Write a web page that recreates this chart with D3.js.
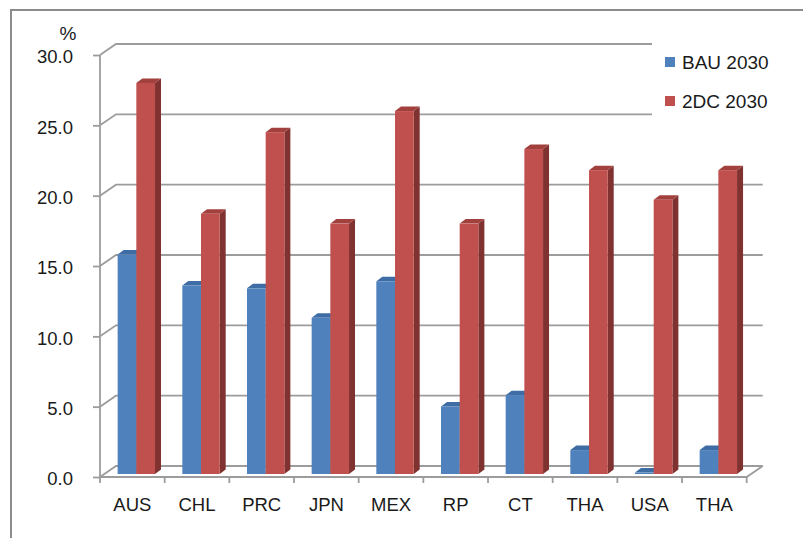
<!DOCTYPE html>
<html>
<head>
<meta charset="utf-8">
<script src="https://cdn.jsdelivr.net/npm/d3@7"></script>
<style>
  html, body { margin: 0; padding: 0; background: #ffffff; }
  svg { display: block; }
  text { font-family: "Liberation Sans", Arial, sans-serif; fill: #1a1a1a; }
</style>
</head>
<body>
<svg id="chart" width="803" height="538"></svg>
<script>
// Categories (economies) and the two scenario series, in percent
const categories = ["AUS", "CHL", "PRC", "JPN", "MEX", "RP", "CT", "THA", "USA", "THA"];
const seriesNames = ["BAU 2030", "2DC 2030"];
const bau2030 = [15.6, 13.4, 13.2, 11.1, 13.7, 4.8, 5.6, 1.7, 0.1, 1.7];
const dc2030 = [27.8, 18.5, 24.3, 17.8, 25.8, 17.8, 23.1, 21.6, 19.5, 21.6];
const yTicks = [0, 5, 10, 15, 20, 25, 30];

const seriesValues = [bau2030, dc2030];
const colors = [
  { front: "#4f81bd", top: "#3e6ca4", side: "#385d8a" },
  { front: "#c0504d", top: "#a2403d", side: "#7f3230" }
];

const svg = d3.select("#chart");

// Plot box on the front plane, plus oblique depth offsets
const left = 100, right = 746.7, base = 477, topY = 55;
const wallDx = 16, wallDy = -11;    // back wall offset
const barDx = 4, barDy = -3;        // plane the bars stand on
const depthDx = 6, depthDy = -4.5;  // bar thickness

const x = d3.scaleBand().domain(d3.range(categories.length)).range([left, right]).padding(0);
const y = d3.scaleLinear().domain([0, 30]).range([base, topY]);
const groupW = x.bandwidth() * 0.578;
const xs = d3.scaleBand().domain(d3.range(seriesNames.length)).range([0, groupW]).padding(0);

// Outer frame
svg.append("rect")
  .attr("x", 11).attr("y", 10).attr("width", 830).attr("height", 560)
  .attr("fill", "none").attr("stroke", "#8c8c8c").attr("stroke-width", 2);

const grid = svg.append("g").attr("stroke", "#9c9c9c").attr("stroke-width", 1.8).attr("fill", "none");

// Back-wall gridlines with the diagonal on the side wall
yTicks.forEach(t => {
  grid.append("path")
    .attr("d", `M${left},${y(t)}L${left + wallDx},${y(t) + wallDy}L${right + wallDx},${y(t) + wallDy}`);
});
// Floor edges
grid.append("path")
  .attr("d", `M${left},${base}L${right},${base}L${right + wallDx},${base + wallDy}`);

// Bars with top and side faces
const bars = svg.append("g");
categories.forEach((c, i) => {
  const gx = x(i) + (x.bandwidth() - groupW) / 2 + barDx;
  seriesValues.forEach((vals, s) => {
    const v = vals[i];
    const x0 = gx + xs(s), w = xs.bandwidth();
    const y0 = y(v) + barDy, yb = y(0) + barDy;
    const col = colors[s];
    const g = bars.append("g");
    g.append("path")
      .attr("d", `M${x0 + w},${y0}L${x0 + w + depthDx},${y0 + depthDy}L${x0 + w + depthDx},${yb + depthDy}L${x0 + w},${yb}Z`)
      .attr("fill", col.side);
    g.append("path")
      .attr("d", `M${x0},${y0}L${x0 + depthDx},${y0 + depthDy}L${x0 + w + depthDx},${y0 + depthDy}L${x0 + w},${y0}Z`)
      .attr("fill", col.top);
    g.append("rect")
      .attr("x", x0).attr("y", y0).attr("width", w).attr("height", Math.max(0, yb - y0))
      .attr("fill", col.front);
  });
});

// Value axis
const yAxis = svg.append("g")
  .attr("transform", `translate(${left},0)`)
  .call(d3.axisLeft(y).tickValues(yTicks).tickFormat(d3.format(".1f")).tickSize(7).tickPadding(20));
yAxis.select(".domain").attr("stroke", "#9c9c9c").attr("stroke-width", 1.8)
  .attr("d", `M0,${topY}V${base}`);
yAxis.selectAll(".tick line").attr("stroke", "#9c9c9c").attr("stroke-width", 1.8);
yAxis.selectAll(".tick text")
  .attr("font-size", 18.5).attr("fill", "#1a1a1a")
  .style("font-family", "'Liberation Sans', Arial, sans-serif")
  .attr("dy", "0.42em");

// Category axis: ticks sit between categories
const xAxis = svg.append("g").attr("transform", `translate(0,${base})`)
  .call(d3.axisBottom(x).tickFormat(i => categories[i]).tickSize(0).tickPadding(21));
xAxis.select(".domain").remove();
xAxis.selectAll(".tick text")
  .attr("font-size", 18.5).attr("fill", "#1a1a1a")
  .style("font-family", "'Liberation Sans', Arial, sans-serif");
const bounds = d3.range(categories.length + 1).map(i => left + i * x.step());
svg.append("g").selectAll("line").data(bounds).join("line")
  .attr("x1", d => d).attr("x2", d => d).attr("y1", base).attr("y2", base + 6)
  .attr("stroke", "#9c9c9c").attr("stroke-width", 1.8);

// Unit label
svg.append("text").attr("x", 68).attr("y", 40).attr("text-anchor", "middle")
  .attr("font-size", 19).text("%");

// Legend
const legend = svg.append("g");
legend.append("rect").attr("x", 652).attr("y", 34).attr("width", 140).attr("height", 88).attr("fill", "#ffffff");
seriesNames.forEach((name, s) => {
  const ly = 62 + s * 39;
  legend.append("rect").attr("x", 665).attr("y", ly - 5).attr("width", 10).attr("height", 10)
    .attr("fill", colors[s].front);
  legend.append("text").attr("x", 682).attr("y", ly + 6.5).attr("font-size", 19).text(name);
});
</script>
</body>
</html>
